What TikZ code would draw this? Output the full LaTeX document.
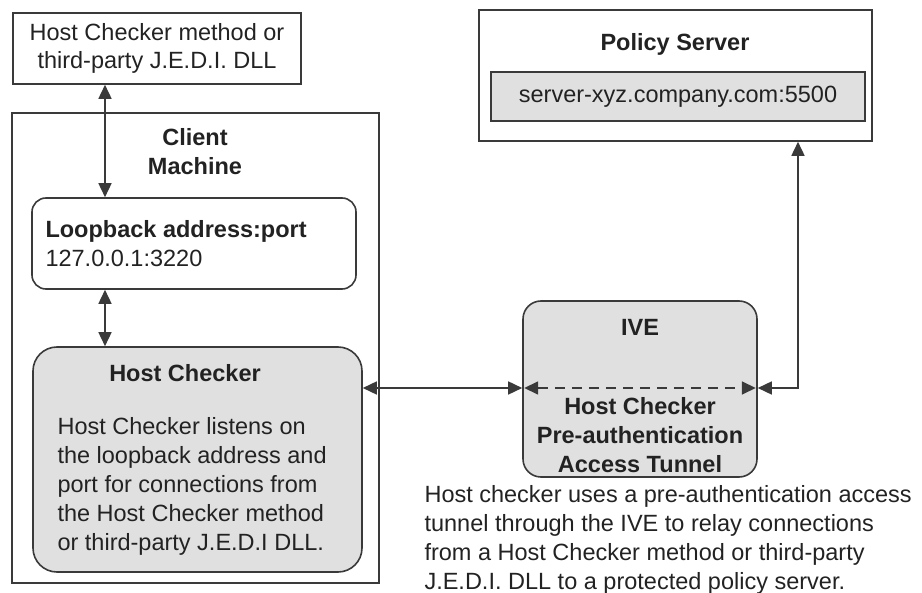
\documentclass[tikz,border=0pt]{standalone}
\usepackage{fontspec}
\setmainfont{Liberation Sans}
\usetikzlibrary{arrows.meta}
\definecolor{boxgray}{HTML}{E0E0E0}
\definecolor{linegray}{HTML}{3A3A3A}
\definecolor{txt}{HTML}{222222}

\begin{document}
\begin{tikzpicture}[x=1pt, y=-1pt,
  >={Triangle[length=14pt,width=13pt]},
  every node/.style={text=txt, font=\fontsize{23.5}{28.8}\selectfont},
  frame/.style={draw=linegray, line width=1.6pt, inner sep=0pt},
  roundframe/.style={frame, rounded corners=#1},
  shaded/.style={fill=boxgray},
  title/.style={font=\fontsize{23.5}{28.8}\selectfont\bfseries, align=center},
  link/.style={draw=linegray, line width=1.6pt, <->}
]
  \useasboundingbox (0,0) rectangle (922,593);

  % boxes
  \node[frame, minimum width=288pt, minimum height=71pt, align=center] (hcm) at (157,48.5)
    {Host Checker method or\\third-party J.E.D.I. DLL};
  \node[frame, minimum width=367pt, minimum height=470pt] (client) at (195.5,348) {};
  \node[title] (clienttxt) at (195,152) {Client\\Machine};
  \node[roundframe=14pt, minimum width=324pt, minimum height=91pt] (lb) at (194,243.5) {};
  \node[anchor=west, align=left] (lbtxt) at (42,244)
    {\textbf{Loopback address:port}\\127.0.0.1:3220};
  \node[roundframe=24pt, shaded, minimum width=329pt, minimum height=225pt] (hc) at (197.5,459.5) {};
  \node[title] (hctitle) at (185,373) {Host Checker};
  \node[anchor=west, align=left] (hctxt) at (54,486.5)
    {Host Checker listens on\\the loopback address and\\port for connections from\\the Host Checker method\\or third-party J.E.D.I DLL.};
  \node[roundframe=18pt, shaded, minimum width=234pt, minimum height=176pt] (ive) at (640,389) {};
  \node[title] (ivetitle) at (640,327) {IVE};
  \node[title] (tunneltxt) at (640,435) {Host Checker\\Pre-authentication\\Access Tunnel};
  \node[frame, minimum width=393pt, minimum height=131pt] (ps) at (675.5,75.5) {};
  \node[title] (pstitle) at (675,44) {Policy Server};
  \node[frame, shaded, minimum width=374pt, minimum height=49pt] (addr) at (678,96.5)
    {server-xyz.company.com:5500};
  \node[anchor=west, align=left] (note) at (421,540)
    {Host checker uses a pre-authentication access\\tunnel through the IVE to relay connections\\from a Host Checker method or third-party\\J.E.D.I. DLL to a protected policy server.};

  % connectors
  \coordinate (ax) at (105,0);
  \coordinate (tun) at (0,388);
  \coordinate (up) at (798,388);
  \draw[link] (hcm.south -| ax) -- (lb.north -| ax);
  \draw[link] (lb.south -| ax) -- (hc.north -| ax);
  \draw[link] (hc.east |- tun) -- (ive.west |- tun);
  \draw[link, dash pattern=on 10pt off 7pt, shorten <=2pt, shorten >=2pt] (ive.west |- tun) -- (ive.east |- tun);
  \draw[link] (ive.east |- tun) -- (up) -- (up |- ps.south);
\end{tikzpicture}
\end{document}
